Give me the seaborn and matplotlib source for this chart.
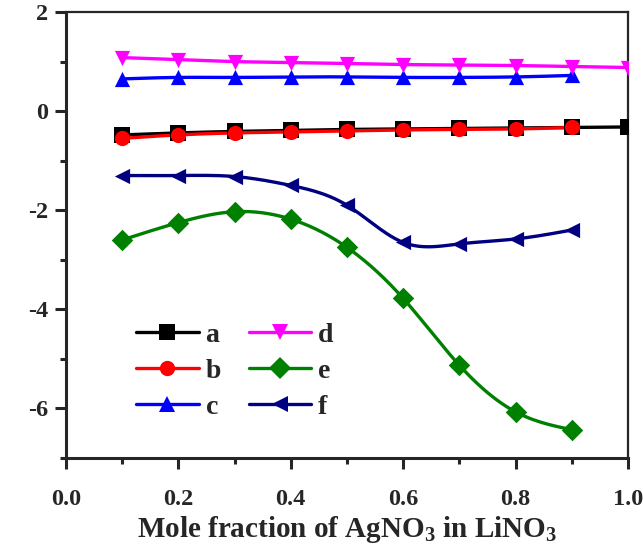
import numpy as np
import pandas as pd
import matplotlib
matplotlib.use("Agg")
import matplotlib.pyplot as plt
import seaborn as sns
from matplotlib.lines import Line2D
from matplotlib.ticker import MultipleLocator

x_full = [0.1, 0.2, 0.3, 0.4, 0.5, 0.6, 0.7, 0.8, 0.9, 1.0]
x_part = [0.1, 0.2, 0.3, 0.4, 0.5, 0.6, 0.7, 0.8, 0.9]
a_vals = [-0.48, -0.44, -0.41, -0.39, -0.37, -0.36, -0.35, -0.34, -0.33, -0.32]
b_vals = [-0.55, -0.48, -0.44, -0.42, -0.40, -0.38, -0.37, -0.36, -0.33]
c_vals = [0.65, 0.68, 0.68, 0.69, 0.69, 0.68, 0.68, 0.69, 0.72]
d_vals = [1.08, 1.04, 1.00, 0.98, 0.96, 0.94, 0.93, 0.92, 0.90, 0.88]
e_vals = [-2.60, -2.25, -2.03, -2.18, -2.75, -3.78, -5.13, -6.07, -6.43]
f_vals = [-1.30, -1.30, -1.32, -1.50, -1.90, -2.65, -2.68, -2.58, -2.40]
labels = ["a", "b", "c", "d", "e", "f"]
xticks = [0.0, 0.2, 0.4, 0.6, 0.8, 1.0]
yticks = [2, 0, -2, -4, -6]

series = [
    ("a", x_full, a_vals, "black", "s"),
    ("b", x_part, b_vals, "red", "o"),
    ("c", x_part, c_vals, "blue", "^"),
    ("d", x_full, d_vals, "magenta", "v"),
    ("e", x_part, e_vals, "green", "D"),
    ("f", x_part, f_vals, "navy", "<"),
]


def natural_spline(x, y, n=200):
    x = np.asarray(x, float)
    y = np.asarray(y, float)
    m = len(x)
    h = np.diff(x)
    A = np.zeros((m, m))
    r = np.zeros(m)
    A[0, 0] = A[-1, -1] = 1
    for i in range(1, m - 1):
        A[i, i - 1] = h[i - 1]
        A[i, i] = 2 * (h[i - 1] + h[i])
        A[i, i + 1] = h[i]
        r[i] = 6 * ((y[i + 1] - y[i]) / h[i] - (y[i] - y[i - 1]) / h[i - 1])
    M = np.linalg.solve(A, r)
    xs = np.linspace(x[0], x[-1], n)
    idx = np.clip(np.searchsorted(x, xs) - 1, 0, m - 2)
    x0, x1 = x[idx], x[idx + 1]
    hh = x1 - x0
    t0 = x1 - xs
    t1 = xs - x0
    ys = (M[idx] * t0 ** 3 / (6 * hh) + M[idx + 1] * t1 ** 3 / (6 * hh)
          + (y[idx] / hh - M[idx] * hh / 6) * t0
          + (y[idx + 1] / hh - M[idx + 1] * hh / 6) * t1)
    return xs, ys


sns.set_style("ticks")
plt.rcParams["font.family"] = ["Liberation Serif", "DejaVu Serif"]
plt.rcParams["font.weight"] = "bold"
plt.rcParams["mathtext.fontset"] = "custom"
plt.rcParams["mathtext.rm"] = "Liberation Serif:bold"
plt.rcParams["mathtext.bf"] = "Liberation Serif:bold"
plt.rcParams["mathtext.default"] = "bf"

fig = plt.figure(figsize=(6.43, 5.56), dpi=100)
ax = fig.add_axes([0.1026, 0.1763, 0.8741, 0.8021])

for name, xs, ys, col, mk in series:
    sx, sy = natural_spline(xs, ys)
    ax.plot(sx, sy, color=col, lw=2.4, zorder=2)
    df = pd.DataFrame({"x": xs, "y": ys})
    sns.scatterplot(data=df, x="x", y="y", ax=ax, color=col, marker=mk,
                    s=120, edgecolor=col, linewidth=0, zorder=3, legend=False)

ax.set_xlim(0, 1.0)
ax.set_ylim(-7, 2)
ax.set_xticks(xticks)
ax.set_xticklabels([f"{v:.1f}" for v in xticks])
ax.set_yticks(yticks)
ax.set_yticklabels([str(v) for v in yticks])
ax.xaxis.set_minor_locator(MultipleLocator(0.1))
ax.yaxis.set_minor_locator(MultipleLocator(1))
ax.tick_params(which="major", direction="out", length=8, width=2.2,
               labelsize=17.5)
ax.tick_params(which="minor", direction="out", length=4.5, width=2.2)
ax.tick_params(axis="x", which="major", pad=14)
ax.tick_params(axis="y", which="major", pad=5)
for s in ax.spines.values():
    s.set_linewidth(1.6)
    s.set_visible(True)
ax.spines["left"].set_linewidth(2.2)
ax.spines["bottom"].set_linewidth(2.2)
ax.set_xlabel("Mole fraction of AgNO$_3$ in LiNO$_3$",
              fontsize=21, fontweight="bold", labelpad=3)
ax.set_ylabel("")
for t in ax.get_xticklabels() + ax.get_yticklabels():
    t.set_fontweight("bold")

handles = [Line2D([0], [0], color=col, marker=mk, lw=2.4, markersize=11,
                  markeredgewidth=0)
           for _, _, _, col, mk in series]
ax.legend(handles, labels, ncol=2, loc="upper left",
          bbox_to_anchor=(0.1, 0.335), frameon=False,
          handlelength=2.25, handletextpad=0.25, columnspacing=1.0,
          labelspacing=0.38, borderpad=0,
          prop={"weight": "bold", "size": 20})

fig.savefig("out.png", dpi=100)
